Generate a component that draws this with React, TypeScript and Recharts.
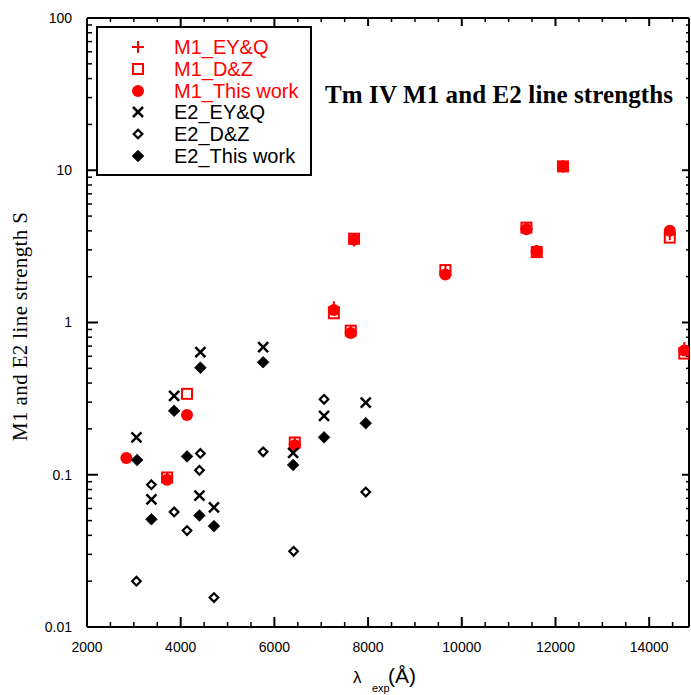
import React from 'react';
import { ScatterChart, Scatter, XAxis, YAxis, Legend } from 'recharts';

const RED = '#ff0000';
const BLACK = '#000000';
const SANS = '"Liberation Sans", Arial, sans-serif';
const SERIF = '"Liberation Serif", "Times New Roman", serif';

// wavelength (Å) / line strength S read off the plot
const m1EyqLambda = [3710, 6435, 7270, 7630, 7700, 9650, 11380, 11600, 12160, 14440, 14750];
const m1EyqS = [0.095, 0.16, 1.26, 0.87, 3.45, 2.15, 4.15, 2.92, 10.6, 3.8, 0.68];

const m1DzLambda = [3710, 4135, 6435, 7270, 7630, 7700, 9650, 11380, 11600, 12160, 14440, 14750];
const m1DzS = [0.096, 0.34, 0.163, 1.15, 0.884, 3.55, 2.21, 4.2, 2.9, 10.6, 3.61, 0.625];

const m1ThisLambda = [2840, 3710, 4135, 6435, 7270, 7630, 7700, 9650, 11380, 11600, 12160, 14440, 14750];
const m1ThisS = [0.129, 0.0927, 0.247, 0.156, 1.21, 0.853, 3.5, 2.07, 4.1, 2.95, 10.6, 4.0, 0.655];

const e2EyqLambda = [3055, 3375, 3860, 4400, 4420, 4710, 5760, 6400, 7060, 7950];
const e2EyqS = [0.176, 0.069, 0.33, 0.073, 0.64, 0.061, 0.69, 0.139, 0.244, 0.298];

const e2DzLambda = [3055, 3375, 3860, 4135, 4400, 4420, 4710, 5760, 6410, 7060, 7950];
const e2DzS = [0.02, 0.086, 0.057, 0.043, 0.107, 0.138, 0.0156, 0.1415, 0.0314, 0.313, 0.077];

const e2ThisLambda = [3070, 3375, 3860, 4135, 4400, 4420, 4710, 5760, 6400, 7060, 7950];
const e2ThisS = [0.125, 0.051, 0.263, 0.132, 0.054, 0.505, 0.046, 0.548, 0.116, 0.176, 0.218];

// axes
const X_DOMAIN = [2000, 14850];
const Y_DOMAIN = [0.01, 100];
const xMajor = [2000, 4000, 6000, 8000, 10000, 12000, 14000];
const xMinor = [2500, 3000, 3500, 4500, 5000, 5500, 6500, 7000, 7500, 8500, 9000, 9500,
    10500, 11000, 11500, 12500, 13000, 13500, 14500];
const yMajor = [0.01, 0.1, 1, 10, 100];
const yMinor = [0.01, 0.1, 1, 10].flatMap((d) => [2, 3, 4, 5, 6, 7, 8, 9].map((m) => +(d * m).toPrecision(3)));

const toPoints = (xs: number[], ys: number[]) => xs.map((x, i) => ({ x, y: ys[i] }));

// marker shapes
const PlusMark = ({ cx, cy }: any) => (
    <path d={`M${cx - 6},${cy}H${cx + 6}M${cx},${cy - 6}V${cy + 6}`} stroke={RED} strokeWidth={2} fill="none" />
);
const SquareMark = ({ cx, cy }: any) => (
    <rect x={cx - 5} y={cy - 5} width={10} height={10} fill="none" stroke={RED} strokeWidth={2} />
);
const DotMark = ({ cx, cy }: any) => <circle cx={cx} cy={cy} r={6} fill={RED} />;
const CrossMark = ({ cx, cy }: any) => (
    <path d={`M${cx - 5},${cy - 5}L${cx + 5},${cy + 5}M${cx - 5},${cy + 5}L${cx + 5},${cy - 5}`}
        stroke={BLACK} strokeWidth={2.5} fill="none" />
);
const OpenDiamondMark = ({ cx, cy }: any) => (
    <path d={`M${cx},${cy - 4.3}L${cx + 4.3},${cy}L${cx},${cy + 4.3}L${cx - 4.3},${cy}Z`}
        fill="none" stroke={BLACK} strokeWidth={2.2} />
);
const FilledDiamondMark = ({ cx, cy }: any) => (
    <path d={`M${cx},${cy - 5.8}L${cx + 5.8},${cy}L${cx},${cy + 5.8}L${cx - 5.8},${cy}Z`}
        fill={BLACK} stroke={BLACK} strokeWidth={0.8} />
);

const legendRows = [
    { name: 'M1_EY&Q', color: RED, Mark: PlusMark },
    { name: 'M1_D&Z', color: RED, Mark: SquareMark },
    { name: 'M1_This work', color: RED, Mark: DotMark },
    { name: 'E2_EY&Q', color: BLACK, Mark: CrossMark },
    { name: 'E2_D&Z', color: BLACK, Mark: OpenDiamondMark },
    { name: 'E2_This work', color: BLACK, Mark: FilledDiamondMark },
];

const renderLegend = () => (
    <div style={{
        width: 212, height: 146, border: '2px solid #000', background: '#fff',
        position: 'relative', fontFamily: SANS, fontSize: 20,
    }}>
        {legendRows.map((r, i) => (
            <div key={r.name} style={{ position: 'absolute', left: 0, top: 19 + i * 21.8 - 12, height: 24, width: '100%' }}>
                <svg width={24} height={24} style={{ position: 'absolute', left: 28, top: 0 }}>
                    <r.Mark cx={12} cy={12} />
                </svg>
                <span style={{ position: 'absolute', left: 76, top: 0, lineHeight: '24px', color: r.color, whiteSpace: 'nowrap' }}>
                    {r.name}
                </span>
            </div>
        ))}
    </div>
);

const renderXLabel = (props: any) => {
    const vb = props.viewBox;
    const x0 = vb.x + vb.width / 2 - 35;
    const base = vb.y + 56;
    return (
        <text fill="#000" fontFamily={SANS}>
            <tspan x={x0} y={base} fontSize={17}>λ</tspan>
            <tspan x={x0 + 19} y={base + 9} fontSize={11}>exp</tspan>
            <tspan x={x0 + 35} y={base} fontSize={21}>(Å)</tspan>
        </text>
    );
};

const renderYLabel = (props: any) => {
    const vb = props.viewBox;
    const cx = vb.x + 27;
    const cy = vb.y + vb.height / 2 + 4;
    return (
        <text x={cx} y={cy} transform={`rotate(-90 ${cx} ${cy})`} textAnchor="middle"
            fontFamily={SERIF} fontSize={21} fill="#000" textLength={229} lengthAdjust="spacing">
            M1 and E2 line strength S
        </text>
    );
};

const renderTitle = (props: any) => {
    const vb = props.viewBox;
    return (
        <text x={vb.x + 238} y={vb.y + 85} fontFamily={SERIF} fontWeight="bold" fontSize={25} fill="#000"
            textLength={348} lengthAdjust="spacing">
            Tm IV M1 and E2 line strengths
        </text>
    );
};

// tick marks only, no label text
const NoLabel = () => <g />;

const tickLine = (w: number) => ({ stroke: BLACK, strokeWidth: w });
const frame = { stroke: BLACK, strokeWidth: 2 };
const THIN = 0.01;

export default function App() {
    return (
        <div style={{ position: 'fixed', left: 0, top: 0, background: '#fff' }}>
            <ScatterChart width={691} height={695} margin={{ top: 18, right: 2, bottom: 0, left: 0 }}>
                {/* main axes with labels */}
                <XAxis xAxisId="x" type="number" dataKey="x" domain={X_DOMAIN} allowDataOverflow ticks={xMajor}
                    interval={0} height={68} tickLine={false} tickSize={0} tickMargin={15} axisLine={frame}
                    tick={{ fontSize: 14, fill: BLACK, fontFamily: SANS }} label={renderXLabel} />
                <YAxis yAxisId="y" type="number" dataKey="y" scale="log" domain={Y_DOMAIN} allowDataOverflow
                    ticks={yMajor} interval={0} width={87} tickLine={false} tickSize={0} tickMargin={15}
                    axisLine={frame} tick={{ fontSize: 14, fill: BLACK, fontFamily: SANS }} label={renderYLabel} />

                {/* inward tick marks, bottom and top */}
                <XAxis xAxisId="xMajB" type="number" dataKey="x" orientation="bottom" mirror height={THIN} domain={X_DOMAIN}
                    allowDataOverflow ticks={xMajor} interval={0} tick={NoLabel} axisLine={false} tickSize={10} tickLine={tickLine(2)} />
                <XAxis xAxisId="xMinB" type="number" dataKey="x" orientation="bottom" mirror height={THIN} domain={X_DOMAIN}
                    allowDataOverflow ticks={xMinor} interval={0} tick={NoLabel} axisLine={false} tickSize={5} tickLine={tickLine(1.5)} />
                <XAxis xAxisId="xMajT" type="number" dataKey="x" orientation="top" mirror height={THIN} domain={X_DOMAIN}
                    allowDataOverflow ticks={xMajor} interval={0} tick={NoLabel} axisLine={frame} tickSize={8} tickLine={tickLine(2)}
                    label={renderTitle} />
                <XAxis xAxisId="xMinT" type="number" dataKey="x" orientation="top" mirror height={THIN} domain={X_DOMAIN}
                    allowDataOverflow ticks={xMinor} interval={0} tick={NoLabel} axisLine={false} tickSize={4} tickLine={tickLine(1.5)} />

                {/* inward tick marks, left and right */}
                <YAxis yAxisId="yMajL" type="number" dataKey="y" scale="log" orientation="left" mirror width={THIN} domain={Y_DOMAIN}
                    allowDataOverflow ticks={yMajor} interval={0} tick={NoLabel} axisLine={false} tickSize={11} tickLine={tickLine(2)} />
                <YAxis yAxisId="yMinL" type="number" dataKey="y" scale="log" orientation="left" mirror width={THIN} domain={Y_DOMAIN}
                    allowDataOverflow ticks={yMinor} interval={0} tick={NoLabel} axisLine={false} tickSize={5} tickLine={tickLine(1.5)} />
                <YAxis yAxisId="yMajR" type="number" dataKey="y" scale="log" orientation="right" mirror width={THIN} domain={Y_DOMAIN}
                    allowDataOverflow ticks={yMajor} interval={0} tick={NoLabel} axisLine={frame} tickSize={7} tickLine={tickLine(2)} />
                <YAxis yAxisId="yMinR" type="number" dataKey="y" scale="log" orientation="right" mirror width={THIN} domain={Y_DOMAIN}
                    allowDataOverflow ticks={yMinor} interval={0} tick={NoLabel} axisLine={false} tickSize={3} tickLine={tickLine(1.5)} />

                <Scatter name="M1_EY&Q" xAxisId="x" yAxisId="y" data={toPoints(m1EyqLambda, m1EyqS)}
                    shape={PlusMark} isAnimationActive={false} />
                <Scatter name="M1_D&Z" xAxisId="x" yAxisId="y" data={toPoints(m1DzLambda, m1DzS)}
                    shape={SquareMark} isAnimationActive={false} />
                <Scatter name="M1_This work" xAxisId="x" yAxisId="y" data={toPoints(m1ThisLambda, m1ThisS)}
                    shape={DotMark} isAnimationActive={false} />
                <Scatter name="E2_EY&Q" xAxisId="x" yAxisId="y" data={toPoints(e2EyqLambda, e2EyqS)}
                    shape={CrossMark} isAnimationActive={false} />
                <Scatter name="E2_D&Z" xAxisId="x" yAxisId="y" data={toPoints(e2DzLambda, e2DzS)}
                    shape={OpenDiamondMark} isAnimationActive={false} />
                <Scatter name="E2_This work" xAxisId="x" yAxisId="y" data={toPoints(e2ThisLambda, e2ThisS)}
                    shape={FilledDiamondMark} isAnimationActive={false} />

                <Legend layout="vertical" align="center" verticalAlign="middle" content={renderLegend}
                    wrapperStyle={{ left: 96, top: 26, width: 216, height: 150 }} />
            </ScatterChart>
        </div>
    );
}
